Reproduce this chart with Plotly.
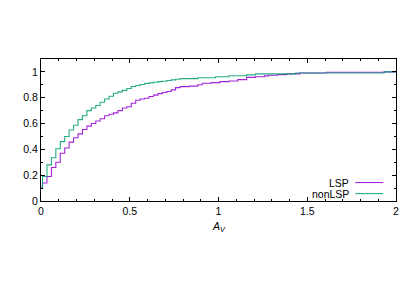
import plotly.graph_objects as go

# Step positions (x where each step begins) and CDF values
lsp_x = [0, 0.0085, 0.0335, 0.0585, 0.0835, 0.1085, 0.1335, 0.1585, 0.1835, 0.2085,
         0.2335, 0.2585, 0.2835, 0.3085, 0.3335, 0.3585, 0.3835, 0.4085, 0.4335, 0.4585,
         0.4835, 0.5085, 0.5335, 0.5585, 0.5835, 0.6085, 0.6335, 0.6585, 0.6835, 0.7085,
         0.7335, 0.7585, 0.7835, 0.8335, 0.8835, 0.9085, 0.9585, 1.0085, 1.0585, 1.1085,
         1.1585, 1.2085, 1.2585, 1.2835, 1.3335, 1.3835, 1.4585, 1.6085, 1.9335, 2.0]
lsp_y = [0.10, 0.14, 0.19, 0.26, 0.30, 0.37, 0.41, 0.456, 0.49, 0.52,
         0.554, 0.58, 0.60, 0.62, 0.637, 0.66, 0.672, 0.683, 0.70, 0.72,
         0.73, 0.757, 0.78, 0.79, 0.796, 0.81, 0.82, 0.832, 0.84, 0.848,
         0.861, 0.878, 0.886, 0.89, 0.90, 0.912, 0.917, 0.925, 0.93, 0.94,
         0.958, 0.962, 0.969, 0.974, 0.979, 0.985, 0.992, 0.997, 1.0, 1.0]

nonlsp_x = [0, 0.0085, 0.0335, 0.0585, 0.0835, 0.1085, 0.1335, 0.1585, 0.1835, 0.2085,
            0.2335, 0.2585, 0.2835, 0.3085, 0.3335, 0.3585, 0.3835, 0.4085, 0.4335, 0.4585,
            0.4835, 0.5085, 0.5335, 0.5585, 0.5835, 0.6085, 0.6335, 0.6585, 0.6835, 0.7085,
            0.7335, 0.7585, 0.7835, 0.8835, 0.9835, 1.0585, 1.1585, 1.2085, 1.4335, 1.9335, 2.0]
nonlsp_y = [0.10, 0.19, 0.28, 0.335, 0.405, 0.46, 0.50, 0.55, 0.587, 0.63,
            0.66, 0.70, 0.72, 0.74, 0.765, 0.79, 0.812, 0.835, 0.845, 0.857,
            0.872, 0.887, 0.895, 0.903, 0.91, 0.915, 0.92, 0.925, 0.928, 0.933,
            0.938, 0.943, 0.948, 0.955, 0.963, 0.970, 0.977, 0.985, 0.992, 1.0, 1.0]

series_names = ["LSP", "nonLSP"]
series_colors = ["#9400d3", "#009e73"]

x_ticks = [0, 0.5, 1, 1.5, 2]
x_tick_labels = ["0", "0.5", "1", "1.5", "2"]
y_ticks = [0, 0.2, 0.4, 0.6, 0.8, 1]
y_tick_labels = ["0", "0.2", "0.4", "0.6", "0.8", "1"]

FONT = "Liberation Sans, Arial, sans-serif"

fig = go.Figure()
for xs, ys, name, col in [(lsp_x, lsp_y, series_names[0], series_colors[0]),
                          (nonlsp_x, nonlsp_y, series_names[1], series_colors[1])]:
    fig.add_trace(go.Scatter(x=xs, y=ys, mode="lines", name=name, opacity=0.85,
                             line=dict(color=col, width=1.1, shape="hv"),
                             showlegend=False))

axis_common = dict(showline=True, linecolor="black", linewidth=1, mirror="allticks",
                   ticks="inside", ticklen=4, tickcolor="black", tickwidth=1,
                   showgrid=False, zeroline=False,
                   tickfont=dict(family=FONT, size=10.5, color="black"))

fig.update_xaxes(range=[0, 2], tickvals=x_ticks, ticktext=x_tick_labels,
                 minor=dict(dtick=0.1, ticks="inside", ticklen=2, tickcolor="black", showgrid=False),
                 **axis_common)
fig.update_yaxes(range=[0, 1.1], tickvals=y_ticks, ticktext=y_tick_labels,
                 minor=dict(dtick=0.1, ticks="inside", ticklen=2, tickcolor="black", showgrid=False),
                 **axis_common)

# x-axis title
fig.add_annotation(x=0.5, y=-0.185, xref="paper", yref="paper",
                   text="<i>A</i><sub><i>V</i></sub>", showarrow=False,
                   font=dict(family=FONT, size=10.5, color="black"),
                   xanchor="center", yanchor="middle")

# gnuplot-style legend (text right-aligned near x=349 px, sample line on the right)
leg_y = [0.130, 0.052]
leg_text_center = [0.840, 0.815]
for name, col, ly, lx in zip(series_names, series_colors, leg_y, leg_text_center):
    fig.add_annotation(x=lx, y=ly, xref="paper", yref="paper", text=name,
                       showarrow=False, xanchor="center", yanchor="middle",
                       font=dict(family=FONT, size=10.5, color="black"))
    fig.add_shape(type="line", xref="paper", yref="paper", x0=0.885, x1=0.964,
                  y0=ly, y1=ly, opacity=0.85, line=dict(color=col, width=1.1))

fig.update_layout(width=415, height=291, margin=dict(l=41, r=19, t=59, b=90),
                  paper_bgcolor="white", plot_bgcolor="white")

fig.write_html("out.html", config={"displayModeBar": False},
               post_script="document.body.style.margin='0';document.body.style.padding='0';")
